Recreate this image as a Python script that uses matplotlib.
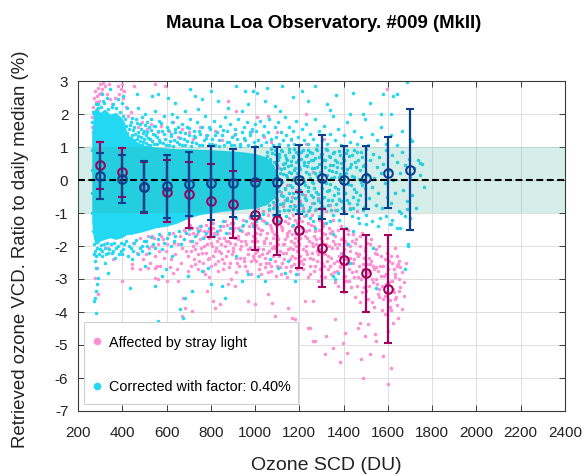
import matplotlib
matplotlib.use("Agg")
import matplotlib.pyplot as plt
from matplotlib.lines import Line2D
from matplotlib.patches import Rectangle
import numpy as np

plt.rcParams['font.family'] = ['Liberation Sans', 'DejaVu Sans']
plt.rcParams['axes.unicode_minus'] = False

# ---------------- data ----------------
bin_blue_x = [300, 400, 500, 600, 700, 800, 900, 1000, 1100, 1200, 1300, 1400, 1500, 1600, 1700]
bin_blue_c = [0.12, 0.02, -0.20, -0.19, -0.13, -0.10, -0.08, -0.06, -0.06, 0.00, 0.07, 0.00, 0.07, 0.22, 0.30]
bin_blue_top = [0.83, 0.76, 0.58, 0.75, 0.85, 1.03, 0.93, 1.00, 1.00, 1.05, 1.35, 1.03, 1.03, 1.31, 2.14]
bin_blue_bot = [-0.59, -0.69, -0.97, -1.14, -1.09, -1.21, -1.11, -1.08, -1.06, -1.04, -1.19, -1.04, -0.87, -0.84, -1.52]

bin_mag_x = [300, 400, 500, 600, 700, 800, 900, 1000, 1100, 1200, 1300, 1400, 1500, 1600]
bin_mag_c = [0.44, 0.25, -0.22, -0.35, -0.43, -0.64, -0.74, -1.06, -1.22, -1.52, -2.06, -2.43, -2.83, -3.30]
bin_mag_top = [1.15, 0.98, 0.55, 0.60, 0.56, 0.48, 0.27, -0.02, -0.17, -0.35, -0.89, -1.47, -1.68, -1.68]
bin_mag_bot = [-0.26, -0.51, -0.99, -1.27, -1.44, -1.72, -1.75, -2.12, -2.28, -2.68, -3.24, -3.39, -3.99, -4.93]

# envelope of the region where the corrected points are so dense they look solid
core_x = [262, 268, 275, 285, 300, 320, 345, 370, 395, 410, 420, 440, 470, 500, 550, 600, 650, 700, 750, 800, 850, 900, 950, 1000, 1050, 1085, 1105]
core_top = [1.4, 1.85, 2.15, 2.2, 2.05, 2.15, 2.0, 2.05, 1.9, 1.75, 1.45, 1.25, 1.15, 1.05, 1.0, 0.97, 0.95, 0.95, 0.93, 0.92, 0.9, 0.88, 0.85, 0.8, 0.7, 0.45, 0.05]
core_bot = [-1.25, -1.7, -1.9, -1.95, -1.85, -1.8, -1.75, -1.8, -1.75, -1.7, -1.65, -1.65, -1.6, -1.55, -1.45, -1.4, -1.3, -1.15, -1.05, -1.0, -0.95, -0.92, -0.88, -0.85, -0.75, -0.55, -0.1]

pink_pts = [
    (262,1.6),(265,1.9),(268,2.2),(270,1.45),(272,2.5),(275,2.05),(278,2.7),(280,1.75),(283,2.35),(285,2.55),(288,2.15),(290,2.8),
    (293,2.4),(296,2.6),(300,2.9),(305,2.65),(310,2.75),(315,2.95),(322,2.85),(330,2.6),(338,2.9),(345,2.45),(355,2.3),(368,2.5),
    (380,2.85),(385,2.6),(392,2.75),(398,2.9),(402,2.5),(408,2.7),(415,2.2),(425,1.95),(440,2.05),(455,2.85),(470,1.6),(490,1.75),
    (510,1.55),(530,1.7),(548,2.9),(560,1.45),(575,1.65),(593,2.85),(610,1.5),(630,1.75),(650,1.3),(670,1.55),(700,1.45),(720,1.25),
    (750,1.6),(780,1.35),(820,1.5),(850,1.2),(879,2.4),(905,1.35),(916,2.1),(950,1.25),(985,1.5),(1010,1.9),(1040,1.3),(1059,1.94),
    (1070,1.15),(1100,1.45),(1160,1.2),(1232,1.99),(1230,1.1),(1310,1.25),(1594,2.75),
    (1005,-0.6),(1015,-0.85),(1025,-0.3),(1035,-0.95),(1045,-0.7),(1055,-0.45),(1065,-0.9),(1075,-0.2),(1085,-0.75),(1095,-0.55),
    (1105,-0.95),(1115,-0.35),(1125,-0.8),(1135,-0.6),(1145,-0.15),(1155,-0.9),(1165,-0.5),(1175,-0.75),(1185,-0.3),(1195,-0.95),
    (1205,-0.65),(1215,-0.85),(1225,-0.45),(1240,-0.95),(1255,-0.7),(1270,-0.9),(1285,-0.55),(1300,-0.8),(1320,-0.95),(1340,-0.75),
    (1360,-0.9),(1380,-0.6),(1400,-0.95),(1430,-0.85),(1460,-0.95),(1050,0.2),(1110,0.35),(1180,0.1),(1260,0.25),
    (450,-1.9),(465,-2.2),(480,-1.75),(495,-2.4),(505,-1.85),(520,-2.05),(535,-1.7),(548,-2.3),(560,-1.95),(572,-2.6),(585,-1.8),
    (598,-2.15),(610,-1.65),(622,-2.4),(635,-1.9),(648,-2.7),(660,-1.7),(672,-2.05),(685,-1.55),(698,-2.3),(705,-1.85),(712,-2.6),
    (720,-1.6),(730,-2.1),(738,-1.45),(745,-2.45),(752,-1.8),(760,-2.2),(768,-1.55),(775,-2.85),(782,-1.95),(790,-2.35),(798,-1.65),
    (805,-2.0),(812,-1.45),(820,-2.55),(828,-1.85),(835,-2.15),(842,-1.5),(850,-2.4),(858,-1.75),(865,-2.0),(872,-1.35),(880,-2.65),
    (888,-1.9),(895,-2.25),(902,-1.55),(910,-1.95),(918,-2.5),(925,-1.7),(932,-2.1),(940,-1.4),(948,-2.35),(955,-1.85),(962,-2.75),
    (970,-1.6),(978,-2.05),(985,-1.3),(992,-2.3),(1000,-1.75),
    (1008,-2.15),(1015,-1.45),(1022,-2.55),(1030,-1.2),(1038,-1.9),(1045,-2.35),(1052,-1.6),(1060,-2.8),(1068,-1.35),(1075,-2.05),
    (1082,-1.75),(1090,-2.45),(1098,-1.15),(1105,-1.95),(1112,-2.65),(1120,-1.5),(1128,-2.2),(1135,-1.8),(1142,-2.95),(1150,-1.3),
    (1158,-2.4),(1165,-1.65),(1172,-2.1),(1180,-1.2),(1188,-2.7),(1195,-1.85),(1202,-2.3),(1210,-1.45),(1218,-2.55),(1225,-1.7),
    (1232,-2.0),(1240,-1.3),(1248,-2.85),(1255,-1.9),(1262,-2.4),(1270,-1.55),(1278,-2.15),(1285,-3.05),(1292,-1.75),(1300,-2.5),
    (1308,-1.4),(1315,-2.25),(1322,-1.95),(1330,-2.7),(1338,-1.6),(1345,-2.35),(1352,-1.85),(1360,-3.1),(1368,-2.05),(1375,-1.5),
    (1382,-2.6),(1390,-2.2),(1398,-1.75),(1405,-2.9),(1412,-2.4),(1420,-1.65),(1428,-2.15),(1435,-3.25),(1442,-2.5),(1450,-1.9),
    (1458,-2.75),(1465,-2.3),(1472,-1.7),(1480,-3.0),(1488,-2.55),(1495,-2.05),(1502,-3.35),(1510,-2.8),(1518,-1.95),(1525,-2.45),
    (1532,-3.1),(1540,-2.2),(1548,-2.65),(1555,-3.45),(1562,-2.0),(1570,-2.9),(1578,-3.6),(1585,-2.4),(1592,-3.15),(1600,-2.7),
    (1608,-3.85),(1615,-2.3),(1622,-3.3),(1630,-2.85),(1638,-3.55),(1645,-2.55),(1652,-3.0),
    (1152,-1.55),(1158,-2.05),(1163,-2.6),(1168,-1.4),(1174,-1.9),(1179,-2.35),(1184,-1.65),(1190,-2.15),(1197,-2.5),(1204,-1.75),
    (1211,-1.25),(1216,-2.1),(1222,-2.4),(1228,-1.55),(1235,-2.25),(1242,-1.85),(1246,-2.6),(1252,-1.35),(1258,-2.2),(1264,-1.7),
    (1268,-2.75),(1275,-1.95),(1281,-2.45),(1288,-1.5),(1294,-2.1),(1298,-2.9),(1304,-1.85),(1311,-2.6),(1318,-1.65),(1326,-2.45),
    (1333,-2.0),(1341,-2.85),(1348,-1.55),(1355,-2.5),(1363,-1.95),(1371,-2.75),(1378,-2.3),(1386,-1.8),(1393,-2.55),(1401,-2.1),
    (1409,-3.05),(1416,-1.95),(1424,-2.7),(1431,-2.35),(1439,-1.85),(1447,-2.95),(1454,-2.2),(1461,-3.2),(1469,-2.6),(1476,-2.0),
    (1484,-3.4),(1491,-2.35),(1499,-2.85),(1506,-1.9),(1514,-3.2),(1521,-2.55),(1529,-3.7),(1536,-2.7),(1544,-3.0),(1551,-2.25),
    (1559,-3.3),(1566,-2.6),(1574,-3.95),(1581,-2.9),(1589,-3.5),(1596,-2.2),(1604,-3.1),(1611,-3.65),(1619,-2.5),(1626,-3.4),
    (1634,-2.95),(1641,-3.8),(1649,-2.45),(1656,-3.25),(1664,-2.8),(1672,-3.5),
    (702,-1.65),(709,-2.15),(716,-1.45),(724,-2.4),(733,-1.9),(741,-2.7),(749,-1.5),(757,-2.05),(764,-2.5),(772,-1.7),(779,-2.2),
    (787,-1.55),(794,-2.95),(801,-1.9),(809,-2.3),(816,-1.6),(824,-2.05),(831,-2.75),(839,-1.75),(846,-2.2),(853,-1.4),(861,-2.5),
    (868,-1.85),(876,-2.15),(883,-1.6),(891,-3.0),(898,-2.05),(906,-1.45),(913,-2.35),(921,-1.8),(928,-2.6),(936,-2.0),(943,-1.55),
    (951,-2.45),(958,-1.95),(966,-2.25),(973,-1.4),(981,-2.85),(988,-1.85),(996,-2.4),(1003,-1.6),(1011,-2.05),(1018,-2.7),
    (1026,-1.5),(1033,-2.25),(1041,-1.85),(1048,-2.5),(1056,-1.3),(1063,-2.15),(1071,-2.6),(1078,-1.55),(1086,-2.0),(1093,-2.9),
    (1101,-1.7),(1108,-2.3),(1116,-1.4),(1123,-2.5),(1131,-1.95),(1138,-2.2),(1146,-1.6),
    (1002,-1.35),(1006,-2.45),(1010,-1.85),(1014,-1.1),(1019,-2.3),(1023,-1.65),(1027,-2.85),(1031,-1.5),(1036,-2.1),(1040,-1.25),
    (1044,-2.65),(1049,-1.75),(1053,-2.2),(1057,-1.05),(1062,-2.5),(1066,-1.9),(1070,-1.45),(1074,-2.75),(1079,-1.2),(1083,-2.3),
    (1087,-1.65),(1091,-2.05),(1096,-1.35),(1100,-2.6),(1104,-1.8),(1109,-1.1),(1113,-2.15),(1117,-2.85),(1121,-1.45),(1126,-1.95),
    (1130,-2.4),(1134,-1.25),(1139,-2.65),(1143,-1.7),(1147,-2.1),(1153,-1.15),(1157,-2.75),(1161,-1.85),(1166,-2.3),(1170,-1.05),
    (1176,-2.55),(1181,-1.75),(1186,-2.0),(1191,-1.3),(1196,-2.85),(1200,-1.95),(1206,-2.45),(1212,-1.6),(1217,-2.7),(1223,-1.1),
    (1229,-2.15),(1234,-1.75),(1239,-2.95),(1244,-1.5),(1250,-2.35),(1256,-1.05),(1261,-2.0),(1266,-1.4),(1272,-2.6),(1277,-1.8),
    (1283,-2.25),(1289,-1.2),(1295,-2.7),(1300,-1.6),
    (1306,-2.2),(1312,-1.3),(1317,-2.95),(1323,-1.75),(1329,-2.3),(1334,-1.45),(1340,-2.6),(1346,-2.05),(1351,-1.2),(1357,-2.8),
    (1362,-1.7),(1368,-2.45),(1373,-3.2),(1379,-1.95),(1385,-2.65),(1390,-1.4),(1396,-2.25),(1401,-3.4),(1407,-1.85),(1413,-2.55),
    (1418,-1.5),(1424,-3.05),(1430,-2.0),(1436,-2.8),(1441,-1.65),(1447,-2.4),(1453,-3.55),(1458,-1.8),(1464,-2.95),(1470,-2.25),
    (1476,-3.7),(1481,-1.6),(1487,-2.7),(1493,-3.25),(1498,-2.15),(1504,-2.55),(1510,-3.6),(1516,-2.35),(1522,-1.8),(1527,-3.0),
    (1533,-2.6),(1539,-3.85),(1545,-2.1),(1551,-3.15),(1556,-2.75),(1562,-3.55),(1568,-2.3),(1574,-3.2),(1580,-2.6),(1586,-4.05),
    (1592,-2.85),(1598,-3.4),(1605,-2.45),(1612,-3.95),(1619,-3.05),(1626,-2.7),(1633,-3.6),(1640,-2.3),(1648,-3.35),(1656,-2.65),
    (1664,-3.9),(1672,-3.1),(1682,-2.5),
    (505,-2.25),(515,-1.7),(525,-2.5),(535,-2.0),(545,-1.75),(555,-2.6),(565,-2.15),(575,-1.7),(590,-2.35),(603,-1.95),(615,-2.65),
    (628,-1.6),(640,-2.25),(652,-1.95),(665,-2.5),(677,-1.5),(690,-2.15),(698,-2.75),(707,-1.35),(719,-2.0),(727,-2.55),(736,-1.65),
    (744,-2.25),(755,-1.4),(763,-2.75),(771,-2.0),(778,-1.35),(786,-2.4),(793,-1.75),(803,-2.6),(810,-1.3),(818,-2.15),(826,-1.65),
    (833,-2.45),(845,-1.95),(855,-2.7),(863,-1.25),(870,-2.3),(878,-1.85),(886,-2.5),(893,-1.3),(901,-2.15),(908,-1.75),(916,-2.8),
    (923,-1.45),(931,-2.35),(938,-1.85),(946,-1.2),(953,-2.6),(961,-1.65),(968,-2.1),(976,-1.15),(983,-2.45),(991,-1.7),(998,-2.2),
    (1240,-4.47),(1262,-3.67),(1270,-4.88),(1315,-5.28),(1322,-4.73),(1353,-5.08),(1360,-4.22),(1383,-5.53),(1398,-4.93),
    (1405,-4.63),(1413,-5.23),(1466,-4.47),(1473,-4.32),(1480,-5.43),(1488,-5.99),(1496,-4.73),(1511,-4.37),(1521,-5.28),
    (1541,-4.68),(1545,-4.88),(1578,-5.33),(1601,-4.58),(1616,-5.69),(1601,-6.19),(1623,-4.32),(1646,-4.17),(1631,-2.05),(1639,-2.6),
    (274,-2.25),(284,-2.66),(277,-2.96),(289,-3.46),
    (397,-3.06),(442,-2.66),(548,-2.66),(563,-3.01),(600,-3.06),(630,-2.81),(653,-3.06),(676,-3.57),(683,-3.87),(668,-4.12),
    (713,-3.97),(781,-3.36),(811,-3.67),(819,-3.87),(841,-3.77),(879,-3.16),(909,-3.21),(969,-3.67),(999,-3.77),(1059,-3.46),
    (1090,-4.12),(1150,-3.87),(1168,-4.17),(1225,-3.67),(1075,-3.72),(1180,-4.22),(1247,-4.47),(1263,-4.88),
    (337,-2.05),(360,-2.4),(442,-2.55),(480,-2.71),(518,-2.66),(548,-2.96),
]

cyan_pts = [
    (465,2.6),(533,2.55),(563,2.62),(608,2.5),(638,2.34),(706,2.75),(728,2.55),(758,2.44),(803,2.7),(834,2.39),(916,2.85),(954,2.7),
    (969,2.29),(879,2.19),(939,2.09),(743,2.14),(683,2.09),(623,1.99),(548,2.09),(503,1.99),(472,2.19),(442,1.89),
    (307,2.6),(314,2.39),(330,2.5),(345,2.75),(360,2.29),(382,2.44),(397,2.34),(405,2.55),(420,2.19),(289,2.19),(274,1.99),
    (425,1.2),(430,1.55),(435,1.05),(440,1.75),(445,1.35),(450,1.15),(455,1.6),(460,1.85),(465,1.25),(470,1.45),(475,1.05),(480,1.7),
    (485,1.3),(490,1.9),(495,1.15),(500,1.5),(505,1.35),(510,1.75),(515,1.05),(520,1.6),(525,1.25),(530,1.85),(540,1.4),(545,1.1),
    (550,1.65),(558,1.3),(565,1.8),(572,1.15),(580,1.5),(588,1.95),(595,1.25),(603,1.6),(610,1.05),(618,1.4),(625,1.75),(633,1.2),
    (640,1.55),(648,1.9),(655,1.1),(663,1.45),(670,1.7),(678,1.25),(685,1.05),(693,1.6),(700,1.35),(708,1.85),(715,1.15),(723,1.5),
    (730,1.3),(738,1.75),(745,1.05),(753,1.4),(760,1.6),(768,1.2),(775,1.95),(783,1.35),(790,1.1),(798,1.55),(805,1.25),(813,1.8),
    (820,1.05),(828,1.45),(835,1.2),(843,1.65),(850,1.35),(858,1.05),(865,1.9),(873,1.5),(880,1.15),(888,1.7),(895,1.3),(903,1.05),
    (910,1.55),(918,1.25),(925,1.85),(933,1.1),(940,1.45),(948,1.6),(955,1.2),(963,1.75),(970,1.05),(978,1.35),(985,1.55),(993,1.15),
    (1000,1.7),
    (423,1.42),(428,1.12),(433,1.68),(438,1.28),(443,1.02),(448,1.52),(453,1.22),(458,1.38),(463,1.08),(468,1.72),(473,1.32),(478,1.18),
    (483,1.55),(488,1.05),(493,1.42),(498,1.25),(503,1.68),(508,1.12),(513,1.45),(518,1.28),(523,1.05),(528,1.52),(535,1.18),(542,1.65),
    (548,1.35),(555,1.08),(562,1.48),(568,1.22),(575,1.72),(583,1.12),(590,1.38),(598,1.05),(606,1.52),(614,1.18),(622,1.32),(630,1.02),
    (638,1.45),(646,1.15),(654,1.62),(662,1.28),(672,1.05),(682,1.42),(692,1.18),(702,1.58),(712,1.02),(722,1.32),(735,1.12),(748,1.48),
    (762,1.05),(776,1.28),(790,1.62),(805,1.08),(820,1.35),(838,1.02),(855,1.52),(872,1.15),(890,1.05),(910,1.38),(930,1.02),(950,1.28),
    (975,1.45),(998,1.02),
    (992,2.7),(1007,2.65),(1052,2.8),(1120,2.85),(1112,2.09),(1090,2.24),(1044,2.39),(1172,2.52),(1210,2.7),(1240,2.39),(1270,2.85),
    (1323,2.31),(1338,2.11),(1365,2.58),(1428,1.99),(1443,2.65),(1488,1.99),(1518,2.34),(1571,1.99),(1579,2.62),(1616,2.01),
    (1624,2.55),(1639,2.6),(1687,2.98),(1707,1.18),(1744,0.53),
    (1005,1.5),(1012,1.2),(1020,1.8),(1028,1.05),(1035,1.35),(1042,1.65),(1050,1.15),(1058,1.45),(1065,1.85),(1072,1.25),(1080,1.05),
    (1088,1.6),(1095,1.3),(1103,1.75),(1110,1.1),(1118,1.45),(1125,1.2),(1133,1.9),(1140,1.35),(1148,1.05),(1155,1.6),(1163,1.25),
    (1170,1.5),(1178,1.1),(1185,1.8),(1193,1.3),(1200,1.05),(1210,1.55),(1220,1.2),(1230,1.7),(1240,1.1),(1250,1.4),(1260,1.25),
    (1270,1.85),(1280,1.05),(1290,1.5),(1300,1.2),(1312,1.65),(1325,1.1),(1338,1.4),(1350,1.95),(1362,1.2),(1375,1.55),(1388,1.05),
    (1400,1.35),(1415,1.75),(1430,1.15),(1445,1.5),(1460,1.1),(1478,1.3),(1495,1.85),(1510,1.05),(1530,1.4),(1550,1.2),(1570,1.6),
    (1590,1.1),(1612,1.35),(1640,1.05),(1665,1.5),(1700,1.25),
    (1052,0.85),(1055,-0.3),(1058,0.4),(1061,-0.75),(1064,0.1),(1067,0.65),(1070,-0.5),(1073,0.95),(1076,-0.1),(1079,0.3),(1082,-0.85),
    (1085,0.55),(1088,-0.35),(1091,0.8),(1094,0.05),(1097,-0.6),(1100,0.45),(1103,-0.2),(1106,0.7),(1109,-0.95),(1112,0.2),(1115,-0.45),
    (1118,0.9),(1121,-0.05),(1124,0.5),(1127,-0.7),(1130,0.35),(1133,0.75),(1136,-0.25),(1139,0.15),(1142,-0.55),(1145,0.6),(1148,-0.9),
    (1151,0.25),(1154,0.85),(1157,-0.15),(1160,0.45),(1163,-0.65),(1166,0.0),(1169,0.7),(1172,-0.4),(1175,0.3),(1178,0.95),(1181,-0.8),
    (1184,0.55),(1187,-0.1),(1190,0.2),(1193,-0.5),(1196,0.8),(1199,0.4),
    (1051,0.15),(1053,-0.62),(1056,0.72),(1059,-0.12),(1062,0.38),(1065,-0.88),(1068,0.58),(1071,0.02),(1074,-0.42),(1077,0.82),
    (1080,-0.68),(1083,0.28),(1086,-0.18),(1089,0.92),(1092,-0.52),(1095,0.48),(1098,-0.82),(1101,0.12),(1104,0.62),(1107,-0.32),
    (1110,0.78),(1113,-0.72),(1116,0.32),(1119,-0.02),(1122,0.88),(1125,-0.48),(1128,0.18),(1131,-0.92),(1134,0.52),(1137,-0.28),
    (1140,0.68),(1143,0.08),(1146,-0.62),(1149,0.42),(1152,-0.38),(1155,0.95),(1158,-0.78),(1161,0.22),(1164,0.58),(1167,-0.22),
    (1170,-0.88),(1173,0.72),(1176,0.05),(1179,-0.55),(1182,0.35),(1185,0.85),(1188,-0.35),(1191,-0.92),(1194,0.62),(1197,0.12),
    (1203,-0.3),(1206,0.65),(1210,0.1),(1213,-0.75),(1216,0.9),(1220,-0.05),(1223,0.45),(1227,-0.55),(1230,0.25),(1233,0.75),(1237,-0.2),
    (1240,0.55),(1243,-0.9),(1247,0.05),(1250,0.85),(1253,-0.45),(1257,0.35),(1260,-0.1),(1263,0.6),(1267,-0.7),(1270,0.2),(1273,0.95),
    (1277,-0.35),(1280,0.4),(1283,-0.6),(1287,0.7),(1290,0.0),(1293,-0.85),(1297,0.5),(1300,-0.25),(1304,0.8),(1308,0.15),(1312,-0.5),
    (1316,0.6),(1320,-0.1),(1324,0.9),(1328,-0.75),(1332,0.3),(1336,-0.3),(1340,0.7),(1344,0.05),(1348,-0.6),(1352,0.45),(1356,0.85),
    (1360,-0.2),(1364,0.25),(1368,-0.9),(1372,0.55),(1376,-0.4),(1380,0.1),(1384,0.75),(1388,-0.65),(1392,0.35),(1396,-0.05),
    (1201,-0.72),(1204,0.32),(1208,0.85),(1211,-0.42),(1214,0.05),(1218,-0.95),(1221,0.55),(1225,-0.15),(1228,0.72),(1231,-0.62),
    (1235,0.42),(1238,0.92),(1241,-0.32),(1245,0.18),(1248,-0.82),(1251,0.62),(1255,-0.05),(1258,0.82),(1261,-0.52),(1265,0.35),
    (1268,-0.25),(1271,0.68),(1275,-0.88),(1278,0.12),(1281,0.92),(1285,-0.42),(1288,0.48),(1291,-0.68),(1295,0.25),(1298,0.78),
    (1302,-0.55),(1305,-0.05),(1309,0.62),(1312,-0.85),(1316,0.38),(1319,0.95),(1323,-0.32),(1326,0.15),(1330,-0.62),(1333,0.72),
    (1337,-0.12),(1340,0.45),(1344,-0.92),(1347,0.28),(1351,0.82),(1355,-0.45),(1358,0.08),(1362,0.62),(1365,-0.72),(1369,0.38),
    (1373,-0.28),(1377,0.88),(1381,-0.58),(1385,0.18),(1389,0.52),(1393,-0.85),(1397,0.68),(1401,0.02),(1405,-0.38),(1409,0.82),
    (1413,-0.62),(1417,0.32),(1421,-0.12),(1425,0.72),(1429,-0.88),(1433,0.48),(1437,0.12),(1441,-0.52),(1445,0.92),(1449,-0.28),
    (1454,0.38),(1459,-0.72),(1464,0.62),(1469,0.02),(1474,-0.45),(1479,0.85),(1484,-0.15),(1489,0.42),(1494,-0.82),(1499,0.22),
    (1402,0.6),(1407,-0.4),(1412,0.2),(1417,0.9),(1422,-0.7),(1427,0.4),(1432,-0.15),(1437,0.75),(1442,-0.85),(1447,0.1),(1452,0.55),
    (1457,-0.35),(1462,0.85),(1467,-0.6),(1472,0.3),(1477,-0.05),(1482,0.7),(1487,-0.9),(1492,0.45),(1497,-0.25),(1502,0.95),(1508,0.15),
    (1514,-0.55),(1520,0.6),(1526,-0.2),(1532,0.8),(1538,0.05),(1544,-0.75),(1550,0.4),(1556,-0.4),(1562,0.7),(1568,0.2),(1574,-0.85),
    (1580,0.5),(1586,-0.1),(1592,0.9),(1598,-0.5),
    (1605,0.3),(1612,-0.7),(1618,0.75),(1625,0.0),(1632,-0.4),(1640,0.55),(1648,-0.95),(1655,0.2),(1662,0.85),(1670,-0.3),(1678,0.45),
    (1686,-0.65),(1694,0.65),(1702,0.1),(1710,-0.45),(1718,0.35),(1726,-0.85),(1735,0.6),(1745,0.15),(1755,0.5),(1762,-0.2),
    (1684,-0.89),(1616,-1.34),(1639,-1.44),(1676,-1.09),(1692,-1.95),
    (1217,-0.94),(1247,-1.14),(1270,-1.44),(1308,-0.84),(1338,-1.24),(1353,-1.65),(1353,-2.91),(1375,-2.81),(1398,-2.25),(1420,-1.95),
    (1443,-1.54),(1466,-1.14),(1503,-1.34),(1533,-2.05),(1556,-1.39),(1563,-1.14),(1609,-1.34),(1654,-1.44),(1691,-2.0),
    (1676,-2.71),(1548,-3.26),(1428,-2.5),(1360,-3.01),
    (274,-2.25),(277,-2.45),(280,-2.66),(284,-3.16),(281,-3.36),(277,-3.57),(274,-3.67),(280,-4.02),(292,-2.96),(322,-2.5),(337,-2.81),
    (360,-2.15),(397,-2.25),(435,-3.26),(445,-2.4),(487,-2.15),(503,-2.61),(548,-3.21),(563,-4.27),(578,-2.91),(597,-2.71),(623,-2.3),
    (661,-3.92),(676,-4.17),(683,-3.57),(698,-2.91),(713,-3.36),(758,-2.76),(789,-2.66),(803,-3.16),(849,-3.21),(864,-3.57),(916,-2.3),
    (939,-3.06),(969,-2.86),(1014,-2.91),(1044,-3.06),(1067,-2.4),(1105,-2.66),(1135,-2.81),(1150,-2.45),(1180,-3.06),(1183,-2.86),
    (300,-2.1),(310,-2.3),(320,-2.05),(335,-2.2),(350,-1.95),(365,-2.35),(380,-2.0),(395,-2.15),(410,-1.95),(425,-2.3),(440,-2.05),
    (455,-1.9),(470,-2.25),(490,-2.0),(505,-1.85),(520,-2.2),(540,-1.95),(560,-1.8),(580,-2.1),(600,-1.75),(620,-2.0),(640,-1.7),
    (665,-1.95),(690,-1.6),(715,-1.85),(740,-1.55),(765,-1.75),(790,-1.45),(815,-1.7),(840,-1.4),(870,-1.6),(900,-1.3),(930,-1.5),
    (960,-1.25),(990,-1.4),(1020,-1.15),(1050,-1.3),(1080,-1.05),(1110,-1.25),(1140,-1.1),(1170,-1.35),(1200,-1.15),(1230,-1.05),
    (1260,-1.25),(1290,-1.1),(1320,-1.3),(1350,-1.05),(1380,-1.2),(1410,-1.45),(1440,-1.1),(1470,-1.3),(1500,-1.05),(1530,-1.25),
    (1590,-1.1),(1620,-1.2),(1660,-1.0),(1700,-1.15),
    (268,-1.55),(272,-1.95),(276,-2.15),(282,-2.3),(288,-2.05),(295,-2.25),(302,-1.98),(308,-2.15),(316,-1.95),(325,-2.25),(332,-1.92),
    (342,-2.1),(355,-2.2),(362,-1.9),(372,-2.05),(385,-2.25),(392,-1.92),(402,-2.1),(415,-1.85),(432,-2.0),(448,-2.15),(462,-1.82),
    (478,-2.05),(497,-1.85),(512,-2.0),(530,-1.72),(550,-2.05),(568,-1.65),(588,-1.9),(612,-1.62),(632,-1.85),(655,-1.55),(678,-1.78),
    (702,-1.48),(728,-1.7),(752,-1.4),(778,-1.62),(802,-1.3),(828,-1.55),(855,-1.25),(885,-1.45),(915,-1.15),(945,-1.35),(975,-1.1),
    (1005,-1.25),(1035,-1.02),
    (265,1.75),(270,2.05),(281,2.3),(292,2.3),(303,2.2),(318,2.32),(335,2.15),(352,2.2),(372,2.18),(388,2.05),(402,1.95),(412,1.85),
    (418,1.65),(262,0.9),(261,0.3),(262,-0.4),(263,-1.0),
]

legend_labels = ['Affected by stray light', 'Corrected with factor: 0.40%']
title_text = 'Mauna Loa Observatory. #009 (MkII)'
x_ticks = list(range(200, 2401, 200))
y_ticks = list(range(-7, 4))

# ---------------- styling ----------------
PINK = '#ff8fd3'
CYAN = '#22d8f2'
MAG = '#a2005c'
BLUE = '#0c3f8e'

fig = plt.figure(figsize=(5.84, 4.76), dpi=100)
ax = fig.add_axes([78/584, 1 - 411/476, 487/584, 330/476])

pink_x, pink_y = zip(*pink_pts)
cyan_x, cyan_y = zip(*cyan_pts)

ax.scatter(pink_x, pink_y, s=6.5, c=PINK, linewidths=0, zorder=2)
ax.fill_between(core_x, core_bot, core_top, color=CYAN, lw=0, zorder=2.1)
ax.scatter(cyan_x, cyan_y, s=6.5, c=CYAN, linewidths=0, zorder=2.2)

ax.axhspan(-1, 1, color=(0.175, 0.665, 0.57), alpha=0.2, lw=0, zorder=3)
ax.axhline(0, color='black', lw=1.5, dashes=(3.3, 1.7), zorder=4)

mag_c = np.array(bin_mag_c)
ax.errorbar(bin_mag_x, bin_mag_c,
            yerr=[mag_c - np.array(bin_mag_bot), np.array(bin_mag_top) - mag_c],
            fmt='o', mfc='none', mec=MAG, ms=6.2, mew=1.5, ecolor=MAG, elinewidth=1.6,
            capsize=2.6, capthick=1.6, zorder=5)
blue_c = np.array(bin_blue_c)
ax.errorbar(bin_blue_x, bin_blue_c,
            yerr=[blue_c - np.array(bin_blue_bot), np.array(bin_blue_top) - blue_c],
            fmt='o', mfc='none', mec=BLUE, ms=6.2, mew=1.5, ecolor=BLUE, elinewidth=1.6,
            capsize=2.6, capthick=1.6, zorder=6)

ax.set_xlim(200, 2400)
ax.set_ylim(-7, 3)
ax.set_xticks(x_ticks)
ax.set_yticks(y_ticks)
ax.set_axisbelow(True)
ax.grid(True, color='#dedede', lw=0.7)
for sp in ax.spines.values():
    sp.set_color('#3a3a3a')
    sp.set_linewidth(0.8)
ax.tick_params(direction='in', length=4, width=0.7, colors='#3a3a3a', labelcolor='#222222',
               labelsize=11, top=True, right=True)
ax.tick_params(axis='x', pad=11)
ax.tick_params(axis='y', pad=7)

ax.set_xlabel('Ozone SCD (DU)', fontsize=14, color='#222222')
ax.xaxis.set_label_coords(0.51, -0.165)
ax.xaxis.label.set_va('center')
ax.set_ylabel('Retrieved ozone VCD. Ratio to daily median (%)', fontsize=13.4, color='#222222')
ax.yaxis.set_label_coords(-0.119, 0.49)
ax.yaxis.label.set_va('center')

fig.text(324/584, 1 - 23/476, title_text, ha='center', va='center',
         fontsize=13.4, fontweight='bold', color='black')

# legend box (drawn separately so its size matches the reference)
box = Rectangle((6/487, 7/330), 214/487, 82/330, transform=ax.transAxes,
                facecolor='white', edgecolor='#cfcfcf', lw=0.8, zorder=9)
ax.add_patch(box)
handles = [Line2D([], [], ls='none', marker='o', ms=5.5, mfc=PINK, mec='none'),
           Line2D([], [], ls='none', marker='o', ms=5.5, mfc=CYAN, mec='none')]
leg = ax.legend(handles, legend_labels, loc='upper left',
                bbox_to_anchor=((91.2 - 78)/487, (411 - 335.5)/330),
                borderaxespad=0, frameon=False, fontsize=10.4, labelspacing=2.1,
                handlelength=0.8, handletextpad=0.44, borderpad=0)
leg.set_zorder(10)

fig.savefig('out.png', dpi=100)
